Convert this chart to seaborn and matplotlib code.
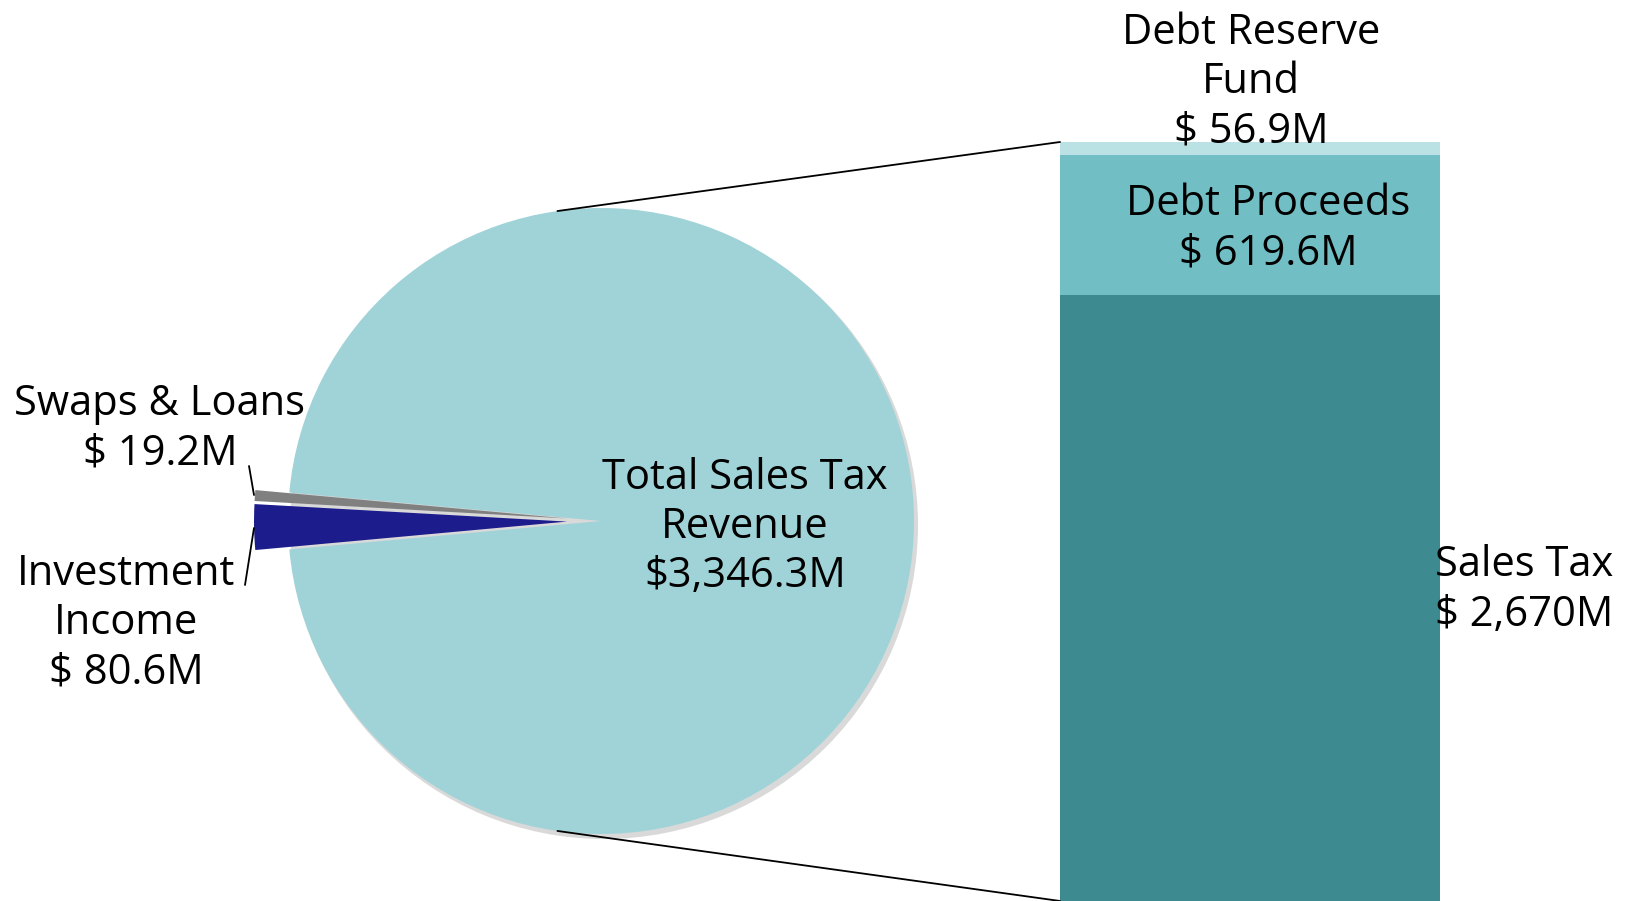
import numpy as np
import pandas as pd
import seaborn as sns
import matplotlib.pyplot as plt
from matplotlib.patches import Circle

# pie data (in $M)
pie_labels = ['Total Sales Tax\nRevenue\n$3,346.3M', 'Swaps & Loans\n$ 19.2M', 'Investment\nIncome\n$ 80.6M']
pie_values = [3346.3, 19.2, 80.6]
pie_colors = ['#A0D3D8', '#808080', '#1C1C8C']

# breakdown of the big slice (bar)
bar_names = ['Sales Tax', 'Debt Proceeds', 'Debt Reserve Fund']
bar_values = [2670.0, 619.6, 56.9]
bar_colors = ['#3D8A91', '#72BEC5', '#BAE1E4']
bar_labels = ['Sales Tax\n$ 2,670M', 'Debt Proceeds\n$ 619.6M', 'Debt Reserve\nFund\n$ 56.9M']

W, H = 1625, 901

sns.set_theme(style='white')
plt.rcParams['font.family'] = ['Open Sans', 'DejaVu Sans']

fig = plt.figure(figsize=(W / 100, H / 100), dpi=100)
ax = fig.add_axes([0, 0, 1, 1])
ax.set_zorder(3)

# pie, small slices centred on the left side and pulled out a bit
cx, cy, r = 601, 380, 313
# soft shadow under the pie
ax.add_patch(Circle((cx + 3, cy - 4), r + 1, color='#d9d9d9', lw=0, zorder=0))
total = sum(pie_values)
start = 180 + (sum(pie_values[1:]) / total) * 180
ax.pie(pie_values, colors=pie_colors, startangle=start, counterclock=True,
       explode=[0, 34, 34], center=(cx, cy), radius=r, frame=True,
       wedgeprops={'linewidth': 0})
ax.set_xlim(0, W)
ax.set_ylim(0, H)
ax.axis('off')

# bar axes
bar_top = 759
ax2 = fig.add_axes([1060 / W, 0, 380 / W, bar_top / H])
cum = np.cumsum(bar_values)
df = pd.DataFrame({'part': bar_names, 'cum': cum})
for i in range(len(bar_values) - 1, -1, -1):
    sns.barplot(x=['x'], y=[df['cum'][i]], color=bar_colors[i], width=1,
                saturation=1, linewidth=0, ax=ax2)
ax2.set_xlim(-0.5, 0.5)
ax2.set_ylim(0, cum[-1])
ax2.axis('off')

# connector lines pie -> bar
a1, a2 = np.deg2rad(98), np.deg2rad(262)
ax.plot([cx + r * np.cos(a1), 1060], [cy + r * np.sin(a1), bar_top], color='black', lw=1.3)
ax.plot([cx + r * np.cos(a2), 1060], [cy + r * np.sin(a2), 0], color='black', lw=1.3)

# leader lines for small slices
ax.plot([249, 254], [435, 406], color='black', lw=1.3)
ax.plot([245, 254], [316, 373], color='black', lw=1.3)

fs = 30
ls = 1.22
kw = dict(ha='center', va='center', fontsize=fs, linespacing=ls, color='black')
ax.text(745, 374, pie_labels[0], **kw)
ax.text(160, 472, pie_labels[1], **kw)
ax.text(126, 278, pie_labels[2], **kw)

ax.text(1524, 311, bar_labels[0], **kw)
ax.text(1268, 672, bar_labels[1], **kw)
ax.text(1251, 819, bar_labels[2], **kw)

fig.savefig('out.png', dpi=100)
